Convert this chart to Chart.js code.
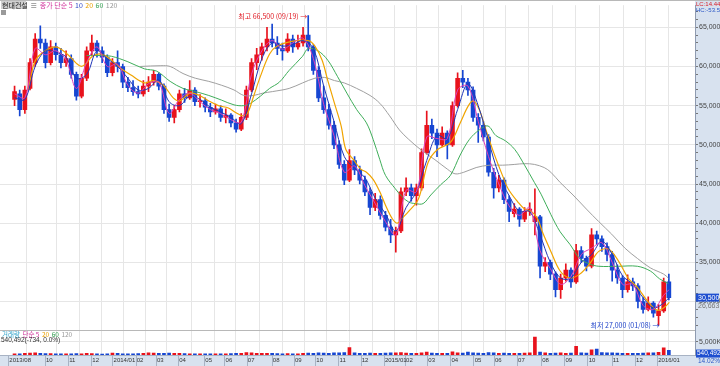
<!DOCTYPE html>
<html>
<head>
<meta charset="utf-8">
<script src="https://cdn.jsdelivr.net/npm/chart.js@4.4.1/dist/chart.umd.min.js"></script>
<style>
  html, body { margin: 0; padding: 0; background: #fff; overflow: hidden; }
  canvas { display: block; }
</style>
</head>
<body>
<canvas id="chart" width="720" height="366"></canvas>
<script>
// 현대건설 weekly candles, Aug 2013 - Jan 2016. Prices in thousand won, volume in K shares.
const weekOpen = [
  55.8, 56.5, 54.5, 57.2, 60.5, 63.5, 63.0, 60.5, 62.5, 61.5,
  60.5, 61.0, 59.0, 56.2, 58.5, 62.0, 63.0, 62.0, 61.2, 59.2,
  60.5, 60.0, 58.0, 57.3, 56.8, 56.5, 57.5, 58.0, 59.0, 57.5,
  54.5, 53.5, 54.5, 56.5, 56.0, 57.0, 55.5, 55.6, 54.8, 54.2,
  54.6, 53.5, 53.8, 52.8, 52.0, 53.5, 57.0, 60.5, 61.5, 62.5,
  63.5, 63.0, 62.3, 62.0, 63.5, 62.5, 63.0, 64.0, 62.5, 59.5,
  56.0, 54.5, 52.5, 50.0, 47.5, 45.5, 48.0, 46.8, 45.5, 44.0,
  42.0, 43.0, 41.0, 39.5, 38.5, 39.0, 44.0, 44.5, 43.5, 44.5,
  49.0, 52.5, 51.5, 50.0, 51.5, 50.0, 55.0, 58.5, 58.0, 57.0,
  53.5, 52.5, 51.0, 46.5, 44.5, 45.5, 43.0, 41.2, 41.8, 40.5,
  41.5, 40.2, 40.8, 34.5, 35.0, 33.5, 31.5, 33.0, 34.0, 32.5,
  36.5, 35.5, 34.5, 38.5, 38.0, 37.0, 36.0, 34.0, 33.0, 31.5,
  32.5, 32.0, 30.0, 29.0, 29.8, 28.2, 28.8, 32.5
];
const weekHigh = [
  57.5, 57.0, 57.5, 61.0, 64.2, 65.2, 63.5, 63.3, 63.0, 62.3,
  62.0, 61.5, 59.3, 59.0, 62.5, 64.0, 63.3, 62.5, 61.5, 61.0,
  62.0, 60.3, 58.6, 58.2, 57.5, 58.2, 58.7, 59.5, 59.2, 57.8,
  55.2, 55.0, 57.0, 57.2, 58.2, 57.3, 56.4, 56.0, 55.3, 55.2,
  55.0, 54.6, 54.0, 53.3, 54.0, 57.5, 61.0, 62.3, 63.0, 65.0,
  65.4, 63.8, 63.0, 64.2, 64.0, 64.0, 65.0, 66.5, 62.8, 60.0,
  57.5, 55.2, 53.0, 50.5, 48.0, 49.4, 48.5, 47.3, 46.0, 44.5,
  43.8, 43.5, 41.5, 40.5, 39.5, 44.5, 45.8, 45.0, 45.0, 49.5,
  54.3, 53.3, 52.0, 52.3, 51.8, 55.5, 59.2, 59.5, 58.5, 57.4,
  54.0, 53.0, 51.3, 47.0, 46.1, 45.8, 43.5, 42.5, 42.0, 42.0,
  42.6, 44.4, 41.0, 35.6, 35.3, 33.8, 33.5, 34.8, 34.3, 37.3,
  37.0, 35.8, 39.3, 39.0, 38.4, 37.5, 36.4, 34.7, 33.3, 33.4,
  33.0, 32.3, 30.5, 30.6, 30.0, 29.6, 33.0, 33.5
];
const weekLow = [
  55.0, 53.7, 54.0, 57.0, 60.0, 62.3, 59.8, 60.2, 60.8, 59.8,
  60.0, 58.5, 55.7, 56.0, 58.2, 61.5, 61.2, 60.5, 58.7, 58.8,
  59.3, 57.3, 56.8, 56.3, 56.0, 56.2, 56.8, 57.6, 57.0, 54.0,
  53.0, 52.8, 54.2, 55.4, 55.8, 55.0, 54.8, 54.2, 53.6, 53.9,
  53.0, 52.8, 52.3, 51.6, 51.8, 53.2, 56.8, 59.6, 60.8, 62.0,
  62.5, 61.5, 60.8, 61.8, 61.8, 62.2, 62.6, 62.0, 59.0, 55.5,
  54.0, 52.0, 49.5, 47.0, 44.9, 45.3, 46.2, 45.0, 43.5, 41.1,
  41.6, 40.5, 39.0, 37.5, 36.3, 38.8, 43.5, 42.8, 42.3, 44.2,
  48.8, 50.8, 48.5, 49.8, 48.2, 49.8, 54.8, 57.3, 56.3, 53.0,
  50.3, 50.5, 46.0, 43.2, 44.0, 42.5, 40.2, 40.8, 39.6, 40.2,
  41.0, 38.5, 33.0, 33.8, 32.8, 30.6, 30.4, 32.6, 31.8, 32.3,
  35.0, 33.9, 34.3, 37.3, 36.4, 35.2, 32.6, 32.3, 30.5, 31.2,
  31.4, 29.2, 28.5, 28.8, 28.0, 27.0, 28.6, 30.2
];
const weekClose = [
  56.8, 54.5, 57.0, 60.5, 63.5, 63.0, 60.5, 62.5, 61.5, 60.5,
  61.0, 59.0, 56.2, 58.5, 62.0, 63.0, 62.0, 61.2, 59.2, 60.5,
  60.0, 58.0, 57.3, 56.8, 56.5, 57.5, 58.0, 59.0, 57.5, 54.5,
  53.5, 54.5, 56.5, 56.0, 57.0, 55.5, 55.6, 54.8, 54.2, 54.6,
  53.5, 53.8, 52.8, 52.0, 53.5, 57.0, 60.5, 61.5, 62.5, 63.5,
  63.0, 62.3, 62.0, 63.5, 62.5, 63.0, 64.0, 62.5, 59.5, 56.0,
  54.5, 52.5, 50.0, 47.5, 45.5, 48.0, 46.8, 45.5, 44.0, 42.0,
  43.0, 41.0, 39.5, 38.5, 39.0, 44.0, 44.5, 43.5, 44.5, 49.0,
  52.5, 51.5, 50.0, 51.5, 50.0, 55.0, 58.5, 58.0, 57.0, 53.5,
  52.5, 51.0, 46.5, 44.5, 45.5, 43.0, 41.5, 41.8, 40.5, 41.5,
  41.8, 40.8, 34.5, 35.0, 33.5, 31.5, 33.0, 34.0, 32.5, 36.5,
  35.5, 34.5, 38.5, 38.0, 37.0, 36.0, 34.0, 33.0, 31.5, 32.5,
  32.0, 30.0, 29.0, 29.8, 28.5, 28.8, 32.5, 30.5
];
const weekVolume = [
  400, 450, 600, 750, 800, 650, 550, 500, 450, 400,
  400, 450, 500, 450, 600, 500, 400, 350, 450, 750,
  600, 450, 400, 420, 500, 650, 800, 700, 600, 650,
  700, 600, 650, 500, 450, 420, 400, 450, 420, 400,
  400, 450, 500, 600, 650, 900, 800, 650, 600, 650,
  600, 500, 450, 500, 450, 480, 600, 750, 650, 800,
  700, 650, 850, 800, 950, 2800, 800, 650, 600, 700,
  650, 600, 700, 800, 850, 950, 700, 600, 650, 850,
  1100, 700, 650, 600, 650, 1200, 850, 700, 1100, 800,
  700, 650, 950, 800, 650, 700, 650, 600, 650, 700,
  800, 6700, 1100, 800, 650, 700, 800, 650, 700, 3300,
  850, 700, 1900, 2200, 900, 800, 850, 700, 650, 650,
  600, 650, 700, 800, 850, 1000, 2700, 1800
];

// moving averages: [week, price]
const ma5 = [[0,56.5],[2,56.0],[4,62.3],[6,61.5],[8,62.0],[10,60.8],[12,57.2],[14,60.5],[16,62.5],[18,60.0],[20,60.3],[22,57.6],[24,56.6],[26,57.8],[28,58.0],[30,54.0],[32,55.8],[34,56.6],[36,55.5],[38,54.5],[40,54.0],[42,53.2],[44,52.9],[46,59.0],[48,62.0],[50,63.3],[52,62.2],[54,63.0],[56,63.6],[58,61.0],[60,55.2],[62,51.2],[64,46.5],[66,47.3],[68,44.8],[70,42.5],[72,40.2],[74,38.5],[76,44.2],[78,44.0],[80,51.0],[82,50.8],[84,50.8],[86,57.0],[88,57.5],[90,53.0],[92,48.5],[94,45.0],[96,42.2],[98,41.0],[100,42.0],[102,36.5],[104,34.2],[106,32.2],[108,33.2],[110,36.0],[112,36.8],[114,37.5],[116,35.0],[118,32.2],[120,32.2],[122,29.5],[124,29.0],[126,30.8],[127,31.5]];
const ma10 = [[0,56.0],[2,55.8],[4,60.0],[6,62.0],[8,61.8],[10,61.2],[12,58.5],[14,59.0],[16,62.0],[18,61.0],[20,60.0],[22,58.5],[24,57.0],[26,57.2],[28,58.3],[30,55.5],[32,55.0],[34,56.2],[36,55.8],[38,54.8],[40,54.2],[42,53.5],[44,52.7],[46,56.5],[48,61.0],[50,63.0],[52,62.6],[54,62.8],[56,63.3],[58,62.3],[60,57.5],[62,53.0],[64,48.5],[66,47.0],[68,45.8],[70,43.2],[72,41.2],[74,39.0],[76,42.0],[78,44.0],[80,48.0],[82,51.2],[84,50.8],[86,54.5],[88,57.8],[90,55.0],[92,50.5],[94,46.2],[96,43.5],[98,41.5],[100,41.5],[102,38.5],[104,35.0],[106,33.0],[108,33.0],[110,35.0],[112,36.0],[114,37.7],[116,36.0],[118,33.3],[120,32.2],[122,30.5],[124,29.2],[126,29.8],[127,30.5]];
const ma20 = [[2.7,57.0],[3.8,60.4],[5.1,61.6],[7.9,62.5],[10.2,61.6],[12.0,60.4],[13.0,60.0],[13.9,60.4],[15.1,61.3],[16.7,61.6],[18.8,60.8],[20.1,60.0],[22.6,58.9],[25.2,57.9],[27.0,58.2],[28.9,57.6],[30.8,56.0],[32.1,55.6],[34.0,56.6],[35.9,56.3],[37.7,55.6],[39.6,55.0],[41.5,54.7],[43.0,54.1],[44.3,53.7],[45.2,54.0],[46.4,56.2],[47.7,58.7],[49.5,61.6],[51.0,62.6],[53.8,63.2],[57.0,63.3],[58.3,62.6],[59.7,60.8],[60.8,58.2],[62.1,55.3],[63.4,52.4],[64.3,49.4],[65.8,48.1],[67.2,46.9],[68.3,46.5],[69.6,45.6],[70.9,44.0],[72.0,42.3],[73.3,40.6],[74.3,40.0],[75.2,40.6],[76.5,41.5],[78.4,43.1],[80.3,47.8],[82.1,49.4],[84.6,50.3],[86.5,52.8],[88.1,55.0],[89.1,55.6],[90.2,54.5],[91.5,51.9],[93.0,49.0],[94.7,46.1],[95.8,44.4],[97.7,42.7],[99.0,41.8],[100.3,41.5],[101.5,40.6],[102.5,38.8],[104.1,36.4],[105.9,33.9],[107.8,33.0],[109.7,33.5],[111.6,34.8],[113.4,36.4],[115.3,36.7],[117.2,35.2],[119.1,33.0],[120.9,31.8],[122.8,30.1],[124.7,28.9],[126.0,29.2],[127.1,29.9]];
const ma60 = [[14.0,61.4],[16.4,61.4],[18.8,61.3],[22.0,60.6],[25.2,59.7],[27.6,59.4],[30.2,58.1],[32.7,57.2],[35.1,56.8],[37.7,56.3],[40.2,55.7],[42.6,55.1],[44.5,55.0],[45.8,55.3],[47.7,56.2],[49.5,57.2],[51.4,58.0],[53.3,59.5],[55.9,61.3],[57.0,62.3],[58.9,62.0],[60.8,60.8],[62.7,58.7],[64.5,56.6],[66.4,54.5],[68.3,52.8],[69.6,50.7],[70.9,48.1],[72.0,46.1],[73.9,44.4],[75.2,43.4],[76.5,42.7],[77.8,42.5],[79.3,42.5],[80.8,43.6],[82.7,44.9],[84.6,46.1],[86.5,48.7],[88.3,50.7],[90.2,51.9],[91.9,52.4],[93.4,51.2],[95.3,50.5],[97.1,49.4],[99.0,47.4],[100.9,45.2],[102.2,43.7],[104.1,41.1],[105.9,38.9],[107.8,37.3],[109.7,35.5],[111.6,34.8],[113.4,34.5],[117.2,34.5],[120.9,34.5],[123.4,33.9],[125.2,32.9],[126.9,32.3]];
const ma120 = [[24.4,60.0],[28.4,60.1],[30.2,60.0],[32.7,59.1],[35.1,58.5],[37.7,58.1],[40.2,57.6],[42.6,57.0],[44.5,56.3],[46.4,56.3],[48.2,56.6],[50.1,56.8],[53.3,57.2],[55.9,57.9],[58.3,58.5],[60.2,58.6],[62.1,58.2],[64.0,57.9],[66.4,57.2],[69.0,56.3],[70.9,55.3],[72.8,53.7],[74.7,51.9],[76.5,50.7],[79.0,49.3],[81.6,48.1],[84.0,46.9],[85.5,46.3],[87.2,46.5],[89.6,47.1],[92.1,47.4],[94.7,47.4],[97.1,47.5],[99.0,47.6],[100.9,47.5],[102.8,47.1],[104.1,46.5],[105.9,45.2],[108.4,43.6],[111.0,41.8],[113.4,40.2],[115.9,38.6],[118.5,36.8],[120.9,35.5],[123.4,34.3],[126.0,33.5],[126.9,33.0]];

// month boundaries on the week axis
const monthTickWeeks = [-1.25, 5.87, 10.37, 14.87, 18.99, 23.49, 27.42, 31.73, 36.79, 40.73, 45.04, 49.9, 54.2, 58.35, 62.84, 67.15, 71.65, 75.77, 80.08, 84.58, 89.08, 93.02, 97.5, 102.2, 106.7, 111.2, 115.9, 120.4, 124.7];
const monthTickLabels = ['2013/08', '10', '11', '12', '2014/01', '02', '03', '04', '05', '06', '07', '08', '09', '10', '11', '12', '2015/01', '02', '03', '04', '05', '06', '07', '08', '09', '10', '11', '12', '2016/01'];

const highDate = '09/19';
const lowDate = '01/08';
const lastDayVolume = 540492;

const UP = '#e8121c';
const DOWN = '#1646d2';
const KR = '"Noto Sans CJK KR", sans-serif';
const NUM = '"Liberation Sans", Arial, sans-serif';

const upDown = weekClose.map((c, i) => (c >= weekOpen[i] ? UP : DOWN));
const pairs = (arr) => arr.map(([x, y]) => ({ x, y }));
const fmt = (v) => Math.round(v * 1000).toLocaleString('en-US');

function maLine(data, color, width) {
  return {
    type: 'line',
    data: pairs(data),
    yAxisID: 'y',
    borderColor: color,
    borderWidth: width,
    pointRadius: 0,
    tension: 0.35,
    fill: false,
  };
}

const panelBg = {
  id: 'panelBg',
  beforeDraw(chart) {
    const { ctx, chartArea: a, width, height } = chart;
    ctx.save();
    ctx.fillStyle = '#fff';
    ctx.fillRect(0, 0, width, height);
    ctx.fillStyle = '#d8e2ef';
    ctx.fillRect(a.right, 0, width - a.right, height);
    ctx.fillRect(0, a.bottom, width, height - a.bottom);
    ctx.strokeStyle = '#a8b3c4';
    ctx.lineWidth = 1;
    const xs = chart.scales.x;
    xs.ticks.forEach((t) => {
      const px = Math.round(xs.getPixelForValue(t.value)) + 0.5;
      ctx.beginPath();
      ctx.moveTo(px, a.bottom);
      ctx.lineTo(px, height);
      ctx.stroke();
    });
    ctx.restore();
  },
};

function drawRun(ctx, x, y, parts, gap) {
  for (const [t, c] of parts) {
    ctx.fillStyle = c;
    ctx.fillText(t, x, y);
    x += ctx.measureText(t).width + gap;
  }
}

const overlay = {
  id: 'overlay',
  afterDraw(chart) {
    const { ctx, chartArea: a, width } = chart;
    const xs = chart.scales.x, ys = chart.scales.y, vs = chart.scales.v;
    ctx.save();
    ctx.textBaseline = 'middle';

    // frame lines
    ctx.strokeStyle = '#b8b8b8';
    ctx.beginPath();
    ctx.moveTo(0, 0.5); ctx.lineTo(width, 0.5);
    ctx.moveTo(0, Math.round(ys.bottom) + 0.5); ctx.lineTo(a.right, Math.round(ys.bottom) + 0.5);
    ctx.stroke();

    // header legend
    ctx.fillStyle = '#cfcfcf';
    ctx.fillRect(1, 1, 25, 8);
    ctx.font = '7px ' + KR;
    drawRun(ctx, 2, 5, [['현대건설', '#222'], ['≡', '#555'], ['종가 단순 5', '#d0309a'], ['10', '#2e48c8'], ['20', '#e8a000'], ['60', '#2f9e4e'], ['120', '#999']], 2.5);
    ctx.fillStyle = '#9a9a9a';
    ctx.fillRect(1, 10, 5, 5);

    // LC / HC in the axis corner
    ctx.font = '6px ' + NUM;
    ctx.fillStyle = '#d8202a';
    ctx.fillText('LC:14.44', a.right + 1, 4);
    ctx.fillStyle = '#2a56c6';
    ctx.fillText('HC:-53.5', a.right + 1, 10);

    // highest / lowest markers
    let hi = 0, lo = 0;
    weekHigh.forEach((v, i) => { if (v > weekHigh[hi]) hi = i; });
    weekLow.forEach((v, i) => { if (v < weekLow[lo]) lo = i; });
    ctx.font = '7px ' + KR;
    ctx.textAlign = 'right';
    ctx.fillStyle = '#e01822';
    ctx.fillText('최고 ' + fmt(weekHigh[hi]) + ' (' + highDate + ') →', xs.getPixelForValue(hi) - 1, ys.getPixelForValue(weekHigh[hi]) + 1);
    ctx.fillStyle = '#1a3fc8';
    ctx.fillText('최저 ' + fmt(weekLow[lo]) + ' (' + lowDate + ') →', xs.getPixelForValue(lo) + 1, ys.getPixelForValue(weekLow[lo]));
    ctx.textAlign = 'left';

    // last price box
    const last = weekClose[weekClose.length - 1];
    const py = ys.getPixelForValue(last);
    ctx.fillStyle = '#1f4fd0';
    ctx.fillRect(a.right + 1, py - 4, 23, 8);
    ctx.font = '7px ' + NUM;
    ctx.fillStyle = '#fff';
    ctx.fillText(fmt(last), a.right + 3, py);
    ctx.fillStyle = '#777';
    ctx.fillText('26,663', a.right + 3, py + 8);

    // volume panel header and last volume box
    ctx.font = '6.5px ' + KR;
    drawRun(ctx, 2, vs.top + 4, [['거래량', '#2aa0c8'], ['단순 5', '#d0309a'], ['20', '#e8a000'], ['60', '#2f9e4e'], ['120', '#999']], 2.5);
    ctx.font = '6.5px ' + NUM;
    ctx.fillStyle = '#333';
    ctx.fillText(lastDayVolume.toLocaleString('en-US') + '(-734, 0.0%)', 1, vs.top + 10);
    const vy = vs.getPixelForValue(lastDayVolume / 1000);
    ctx.fillStyle = '#1f4fd0';
    ctx.fillRect(a.right + 1, vy - 4, 24, 8);
    ctx.fillStyle = '#fff';
    ctx.fillText(lastDayVolume.toLocaleString('en-US'), a.right + 2, vy);
    ctx.fillStyle = '#2a56c6';
    ctx.fillText('14.02%', a.right + 3, vy + 8);
    ctx.restore();
  },
};

const weeks = weekClose.map((_, i) => i);

new Chart(document.getElementById('chart'), {
  type: 'bar',
  data: {
    datasets: [
      maLine(ma5, '#e040b8', 1),
      maLine(ma10, '#2036b8', 1),
      maLine(ma20, '#f0a400', 1.2),
      maLine(ma60, '#3fae5a', 1),
      maLine(ma120, '#a0a0a0', 1),
      {
        data: weeks.map((i) => ({ x: i, y: [weekOpen[i], weekClose[i]] })),
        yAxisID: 'y',
        backgroundColor: upDown,
        barThickness: 4,
        minBarLength: 1,
        grouped: false,
      },
      {
        data: weeks.map((i) => ({ x: i, y: [weekLow[i], weekHigh[i]] })),
        yAxisID: 'y',
        backgroundColor: upDown,
        barThickness: 1,
        grouped: false,
      },
      {
        data: weeks.map((i) => ({ x: i, y: weekVolume[i] })),
        yAxisID: 'v',
        backgroundColor: upDown,
        barThickness: 3,
        grouped: false,
      },
    ],
  },
  options: {
    responsive: false,
    animation: false,
    events: [],
    layout: { padding: { top: 1 } },
    plugins: { legend: { display: false }, tooltip: { enabled: false } },
    scales: {
      x: {
        type: 'linear',
        min: -0.5,
        max: 129.75,
        bounds: 'data',
        afterBuildTicks: (s) => { s.ticks = monthTickWeeks.map((value) => ({ value })); },
        afterFit: (s) => { s.height = 11; },
        grid: { color: '#e6e6e6', drawTicks: false },
        border: { color: '#a8b3c4' },
        ticks: {
          autoSkip: false,
          maxRotation: 0,
          align: 'start',
          padding: 2,
          color: '#333',
          font: { family: NUM, size: 6 },
          callback: (v, i) => '\u2009' + monthTickLabels[i],
        },
      },
      y: {
        position: 'right',
        stack: 'main',
        stackWeight: 329,
        min: 26.33,
        max: 67.82,
        bounds: 'data',
        afterBuildTicks: (s) => {
          const t = [];
          for (let v = 27; v <= 67; v++) t.push({ value: v });
          s.ticks = t;
        },
        afterFit: (s) => { s.width = 25; },
        grid: {
          color: (c) => (c.tick && c.tick.value % 5 === 0 ? '#e6e6e6' : 'rgba(0,0,0,0)'),
          tickColor: '#777',
          tickLength: 3,
        },
        border: { color: '#8f9bb0' },
        ticks: {
          autoSkip: false,
          padding: 1,
          color: '#444',
          font: { family: NUM, size: 7 },
          callback: (v) => (v % 5 === 0 ? fmt(v) : ''),
        },
      },
      v: {
        position: 'right',
        stack: 'main',
        stackWeight: 25,
        min: 0,
        max: 9300,
        bounds: 'data',
        afterBuildTicks: (s) => { s.ticks = [{ value: 5000 }]; },
        afterFit: (s) => { s.width = 25; },
        grid: { color: '#e6e6e6', tickColor: '#777', tickLength: 3 },
        border: { color: '#8f9bb0' },
        ticks: {
          autoSkip: false,
          padding: 1,
          color: '#444',
          font: { family: NUM, size: 7 },
          callback: (v) => v.toLocaleString('en-US') + 'K',
        },
      },
    },
  },
  plugins: [panelBg, overlay],
});
</script>
</body>
</html>
